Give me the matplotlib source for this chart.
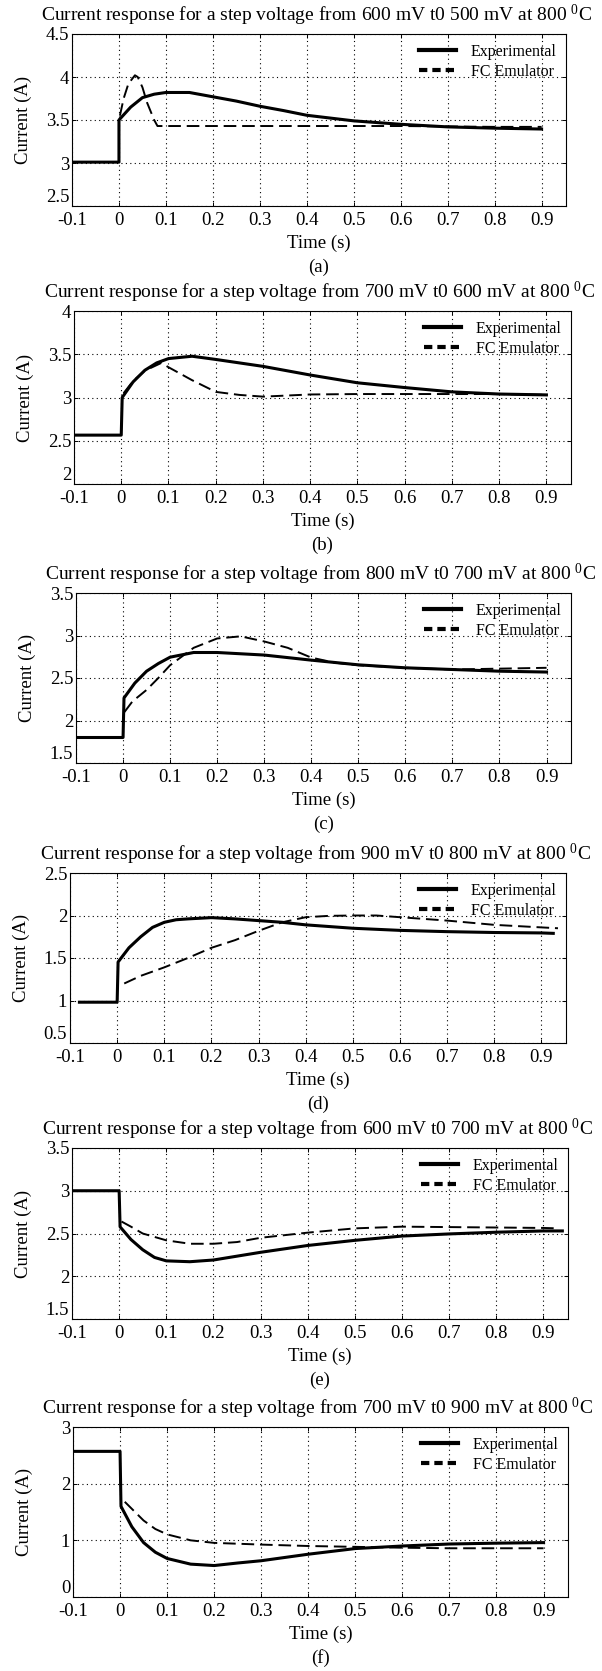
import matplotlib.pyplot as plt
from matplotlib.lines import Line2D

plt.rcParams["font.family"] = ["Liberation Serif", "DejaVu Serif"]
plt.rcParams["mathtext.fontset"] = "custom"
plt.rcParams["mathtext.rm"] = "Liberation Serif"
plt.rcParams["mathtext.it"] = "Liberation Serif:italic"

titles = [
    "Current response for a step voltage from 600 mV t0 500 mV at 800 $^{0}$C",
    "Current response for a step voltage from 700 mV t0 600 mV at 800 $^{0}$C",
    "Current response for a step voltage from 800 mV t0 700 mV at 800 $^{0}$C",
    "Current response for a step voltage from 900 mV t0 800 mV at 800 $^{0}$C",
    "Current response for a step voltage from 600 mV t0 700 mV at 800 $^{0}$C",
    "Current response for a step voltage from 700 mV t0 900 mV at 800 $^{0}$C",
]
tags = ["(a)", "(b)", "(c)", "(d)", "(e)", "(f)"]

xticks = [-0.1, 0, 0.1, 0.2, 0.3, 0.4, 0.5, 0.6, 0.7, 0.8, 0.9]
xticklabels = ["-0.1", "0", "0.1", "0.2", "0.3", "0.4", "0.5", "0.6", "0.7", "0.8", "0.9"]

yticks = [
    [2.5, 3, 3.5, 4, 4.5],
    [2, 2.5, 3, 3.5, 4],
    [1.5, 2, 2.5, 3, 3.5],
    [0.5, 1, 1.5, 2, 2.5],
    [1.5, 2, 2.5, 3, 3.5],
    [0, 1, 2, 3],
]
yticklabels = [
    ["2.5", "3", "3.5", "4", "4.5"],
    ["2", "2.5", "3", "3.5", "4"],
    ["1.5", "2", "2.5", "3", "3.5"],
    ["0.5", "1", "1.5", "2", "2.5"],
    ["1.5", "2", "2.5", "3", "3.5"],
    ["0", "1", "2", "3"],
]

# (a) 600 -> 500 mV
t_exp_a = [-0.1, 0, 0, 0.025, 0.05, 0.075, 0.1, 0.15, 0.2, 0.25, 0.3, 0.35, 0.4, 0.5, 0.6, 0.7, 0.8, 0.9]
i_exp_a = [3.01, 3.01, 3.5, 3.65, 3.76, 3.8, 3.82, 3.82, 3.77, 3.72, 3.66, 3.61, 3.555, 3.49, 3.45, 3.42, 3.405, 3.395]
t_emu_a = [0.002, 0.01, 0.02, 0.034, 0.04, 0.05, 0.06, 0.075, 0.082, 0.2, 0.4, 0.6, 0.8, 0.9]
i_emu_a = [3.55, 3.75, 3.92, 4.02, 4.0, 3.88, 3.7, 3.5, 3.43, 3.43, 3.43, 3.43, 3.42, 3.42]

# (b) 700 -> 600 mV
t_exp_b = [-0.1, 0, 0.002, 0.025, 0.05, 0.075, 0.1, 0.15, 0.2, 0.3, 0.4, 0.5, 0.6, 0.7, 0.8, 0.9]
i_exp_b = [2.565, 2.565, 3.0, 3.18, 3.315, 3.4, 3.45, 3.477, 3.44, 3.36, 3.26, 3.17, 3.115, 3.065, 3.04, 3.03]
t_emu_b = [0.005, 0.025, 0.05, 0.085, 0.1, 0.15, 0.2, 0.25, 0.3, 0.4, 0.5, 0.6, 0.7, 0.8, 0.9]
i_emu_b = [3.05, 3.19, 3.31, 3.4, 3.35, 3.2, 3.065, 3.03, 3.01, 3.035, 3.04, 3.04, 3.04, 3.04, 3.03]

# (c) 800 -> 700 mV
t_exp_c = [-0.1, 0, 0.002, 0.025, 0.05, 0.075, 0.1, 0.15, 0.2, 0.3, 0.4, 0.5, 0.6, 0.7, 0.8, 0.9]
i_exp_c = [1.8, 1.8, 2.265, 2.44, 2.58, 2.67, 2.745, 2.8, 2.8, 2.77, 2.71, 2.655, 2.62, 2.6, 2.58, 2.57]
t_emu_c = [0.003, 0.02, 0.05, 0.075, 0.1, 0.15, 0.2, 0.25, 0.3, 0.35, 0.4, 0.45, 0.5, 0.6, 0.7, 0.8, 0.9]
i_emu_c = [2.1, 2.225, 2.36, 2.5, 2.65, 2.855, 2.965, 2.99, 2.93, 2.855, 2.74, 2.68, 2.65, 2.62, 2.6, 2.61, 2.62]

# (d) 900 -> 800 mV
t_exp_d = [-0.08, 0, 0.002, 0.025, 0.05, 0.075, 0.1, 0.125, 0.15, 0.2, 0.25, 0.3, 0.35, 0.4, 0.5, 0.6, 0.7, 0.8, 0.9, 0.925]
i_exp_d = [0.98, 0.98, 1.453, 1.62, 1.75, 1.86, 1.92, 1.95, 1.96, 1.975, 1.96, 1.94, 1.92, 1.89, 1.85, 1.825, 1.81, 1.8, 1.795, 1.79]
t_emu_d = [0.015, 0.05, 0.1, 0.15, 0.2, 0.25, 0.3, 0.35, 0.4, 0.45, 0.5, 0.55, 0.6, 0.65, 0.7, 0.8, 0.9, 0.935]
i_emu_d = [1.2, 1.29, 1.39, 1.5, 1.62, 1.71, 1.82, 1.92, 1.98, 1.996, 2.0, 2.0, 1.98, 1.96, 1.94, 1.89, 1.86, 1.85]

# (e) 600 -> 700 mV
t_exp_e = [-0.1, 0, 0.002, 0.025, 0.05, 0.075, 0.1, 0.15, 0.2, 0.25, 0.3, 0.35, 0.4, 0.5, 0.6, 0.7, 0.8, 0.9, 0.94]
i_exp_e = [3.0, 3.0, 2.578, 2.43, 2.31, 2.22, 2.18, 2.17, 2.19, 2.235, 2.28, 2.32, 2.36, 2.42, 2.47, 2.495, 2.515, 2.53, 2.53]
t_emu_e = [0.005, 0.025, 0.05, 0.1, 0.15, 0.2, 0.25, 0.3, 0.4, 0.5, 0.6, 0.7, 0.8, 0.9, 0.93]
i_emu_e = [2.64, 2.58, 2.5, 2.42, 2.38, 2.38, 2.4, 2.45, 2.51, 2.56, 2.58, 2.575, 2.57, 2.565, 2.56]

# (f) 700 -> 900 mV
t_exp_f = [-0.1, 0, 0.002, 0.025, 0.05, 0.075, 0.1, 0.15, 0.2, 0.25, 0.3, 0.4, 0.5, 0.6, 0.7, 0.8, 0.9]
i_exp_f = [2.57, 2.57, 1.6, 1.24, 0.96, 0.79, 0.68, 0.58, 0.555, 0.6, 0.64, 0.755, 0.855, 0.9, 0.935, 0.95, 0.96]
t_emu_f = [0.01, 0.05, 0.075, 0.1, 0.15, 0.2, 0.3, 0.4, 0.5, 0.6, 0.7, 0.9]
i_emu_f = [1.68, 1.35, 1.2, 1.105, 1.0, 0.955, 0.925, 0.9, 0.885, 0.87, 0.86, 0.86]

exp_t = [t_exp_a, t_exp_b, t_exp_c, t_exp_d, t_exp_e, t_exp_f]
exp_i = [i_exp_a, i_exp_b, i_exp_c, i_exp_d, i_exp_e, i_exp_f]
emu_t = [t_emu_a, t_emu_b, t_emu_c, t_emu_d, t_emu_e, t_emu_f]
emu_i = [i_emu_a, i_emu_b, i_emu_c, i_emu_d, i_emu_e, i_emu_f]

# axes boxes in pixels: left, right, top, bottom
boxes = [
    (72, 566, 34, 206),
    (74, 571, 311, 484),
    (76, 571, 593, 763),
    (70, 566, 873, 1043),
    (72, 568, 1148, 1319),
    (73, 568, 1427, 1597),
]

W, H = 602, 1671
fig = plt.figure(figsize=(W / 100, H / 100), dpi=100)

px = 0.72  # points per pixel at dpi 100

for k in range(6):
    l, r, t, b = boxes[k]
    ax = fig.add_axes([l / W, 1 - b / H, (r - l) / W, (b - t) / H])

    ax.plot(exp_t[k], exp_i[k], color="black", lw=2.2, solid_joinstyle="round")
    ax.plot(emu_t[k], emu_i[k], color="black", lw=1.4, dashes=(6.5, 3))

    ax.set_xlim(-0.1, 0.952)
    ax.set_ylim(yticks[k][0], yticks[k][-1])
    ax.set_xticks(xticks)
    ax.set_xticklabels(xticklabels)
    ax.set_yticks(yticks[k])
    ax.set_yticklabels(yticklabels[k])
    ax.tick_params(direction="in", top=True, right=True, length=3, width=0.7,
                   labelsize=13.5, color="black")
    ax.tick_params(axis="x", pad=4)
    ax.tick_params(axis="y", pad=2)
    # lowest y label sits just above the x axis, like the original
    ax.get_yticklabels()[0].set_verticalalignment("bottom")
    ax.grid(True, color="black", linestyle=(0, (1, 3)), linewidth=0.8)
    for s in ax.spines.values():
        s.set_linewidth(0.8)

    handles = [
        Line2D([], [], color="black", lw=3.0),
        Line2D([], [], color="black", lw=3.0, dashes=(2, 1.2)),
    ]
    ax.legend(handles, ["Experimental", "FC Emulator"], loc="upper right",
              frameon=False, fontsize=11.5, handlelength=2.3, handletextpad=0.9,
              labelspacing=0.25, borderaxespad=0.3, borderpad=0.3)

    ax.annotate(titles[k], xy=(0.5, 1), xycoords="axes fraction",
                xytext=(-3 * px, 19 * px), textcoords="offset points",
                ha="center", va="center", fontsize=14)
    ax.annotate("Time (s)", xy=(0.5, 0), xycoords="axes fraction",
                xytext=(0, -37 * px), textcoords="offset points",
                ha="center", va="center", fontsize=13.5)
    ax.annotate(tags[k], xy=(0.5, 0), xycoords="axes fraction",
                xytext=(0, -61 * px), textcoords="offset points",
                ha="center", va="center", fontsize=13.5)
    ax.annotate("Current (A)", xy=(0, 0.5), xycoords="axes fraction",
                xytext=(-49 * px, 0), textcoords="offset points",
                ha="center", va="center", rotation=90, fontsize=13.5)

fig.savefig("out.png", dpi=100)
